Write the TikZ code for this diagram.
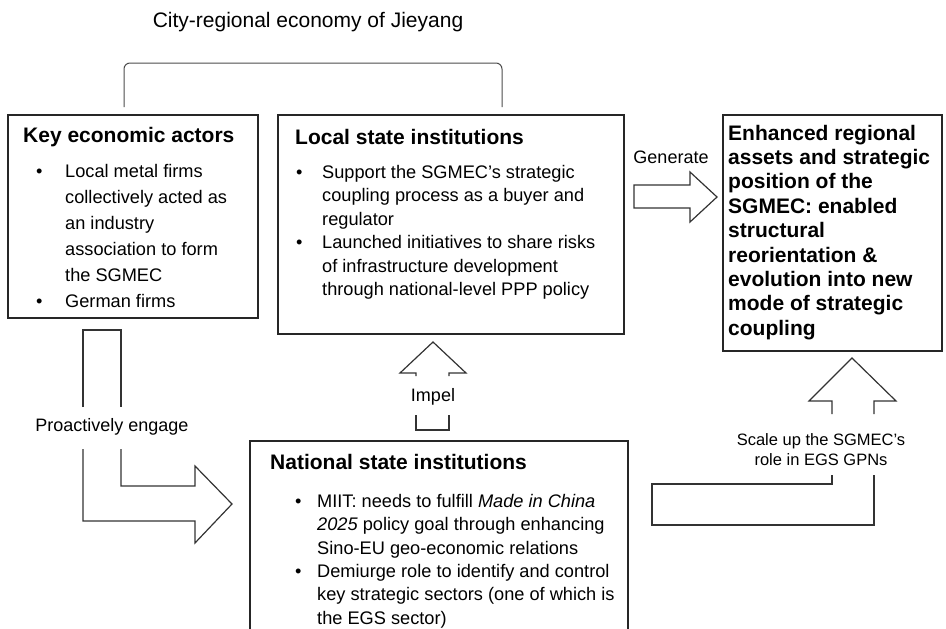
\documentclass[tikz,border=0pt]{standalone}
\usepackage{fontspec}
\setmainfont{Liberation Sans}
\newcommand\bl[1]{\llap{•\hspace{#1pt}}}
\begin{document}
\begin{tikzpicture}[x=1pt,y=-1pt,
  box/.style={draw=black!85,line width=1.6pt,inner sep=0pt,anchor=north west},
  blk/.style={draw=black!80,line width=1.2pt,line join=miter},
  txt/.style={inner sep=0pt,anchor=base west,align=left,font=\fontsize{18.2}{#1}\selectfont},
  ttl/.style={inner sep=0pt,anchor=base west,font=\fontsize{21}{25}\selectfont\bfseries},
  lbl/.style={inner sep=0pt,font=\fontsize{18}{22}\selectfont}]
\useasboundingbox (0,0) rectangle (946,629);
\clip (0,0) rectangle (946,629);

% title and bracket
\node[inner sep=0pt,font=\fontsize{21}{25}\selectfont] (title) at (308,22) {City-regional economy of Jieyang};
\coordinate (brl) at (124,107);
\coordinate (brr) at (502,107);
\draw[draw=black!70,line width=1pt,rounded corners=6pt] (brl) -- (124,63) -- (502,63) -- (brr);

% key economic actors (base anchor = last line baseline)
\node[box,minimum width=250,minimum height=203] (key) at (7,114) {};
\node[ttl] (keyt) at (23,142) {Key economic actors};
\node[txt=26] (keyl) at (65,307.5) {\bl{22.8}Local metal firms\\collectively acted as\\an industry\\association to form\\the SGMEC\\\bl{22.8}German firms};

% local state institutions
\node[box,minimum width=346,minimum height=219] (local) at (277,114) {};
\node[ttl] (localt) at (295,144) {Local state institutions};
\node[txt=23.4] (locall) at (322,295.5) {\bl{19.8}Support the SGMEC’s strategic\\coupling process as a buyer and\\regulator\\\bl{19.8}Launched initiatives to share risks\\of infrastructure development\\through national-level PPP policy};

% enhanced
\node[box,minimum width=219,minimum height=236] (enh) at (722,114) {};
\node[inner sep=0pt,anchor=base west,align=left,font=\fontsize{21}{24.4}\selectfont\bfseries] (enht) at (728,335.2) {Enhanced regional\\assets and strategic\\position of the\\SGMEC: enabled\\structural\\reorientation \&\\evolution into new\\mode of strategic\\coupling};

% national state institutions
\node[box,minimum width=378,minimum height=230] (nat) at (249,440) {};
\node[ttl] (natt) at (270,469) {National state institutions};
\node[txt=23.3] (natl) at (317,624) {\bl{15.8}MIIT: needs to fulfill \emph{Made in China}\\\emph{2025} policy goal through enhancing\\Sino-EU geo-economic relations\\\bl{15.8}Demiurge role to identify and control\\key strategic sectors (one of which is\\the EGS sector)};

% Generate arrow
\node[lbl] (gen) at (671,157) {Generate};
\draw[blk] (634,185) -- (690,185) -- (690,172) -- (717,197) -- (690,222) -- (690,208) -- (634,208) -- cycle;

% Impel arrow
\node[lbl] (imp) at (433,397) {Impel};
\draw[blk] (416,376) -- (416,373) -- (400,373) -- (433,342) -- (466,373) -- (449,373) -- (449,376);
\draw[blk] (416,415) -- (416,430) -- (449,430) -- (449,415);

% Proactively engage arrow
\node[lbl] (pro) at (112,427) {Proactively engage};
\draw[blk] (83,407) -- (83,330) -- (121,330) -- (121,407);
\draw[blk] (121,449) -- (121,486) -- (195,486) -- (195,466) -- (232,504) -- (195,543) -- (195,521) -- (83,521) -- (83,449);

% Scale up arrow
\node[inner sep=0pt,align=center,font=\fontsize{16.5}{19.3}\selectfont] (scl) at (821,449.5) {Scale up the SGMEC’s\\role in EGS GPNs};
\draw[blk] (832,414) -- (832,401) -- (809,401) -- (852,358) -- (896,401) -- (874,401) -- (874,414);
\draw[blk] (874,475) -- (874,525) -- (652,525) -- (652,484) -- (832,484) -- (832,475);
\end{tikzpicture}
\end{document}
